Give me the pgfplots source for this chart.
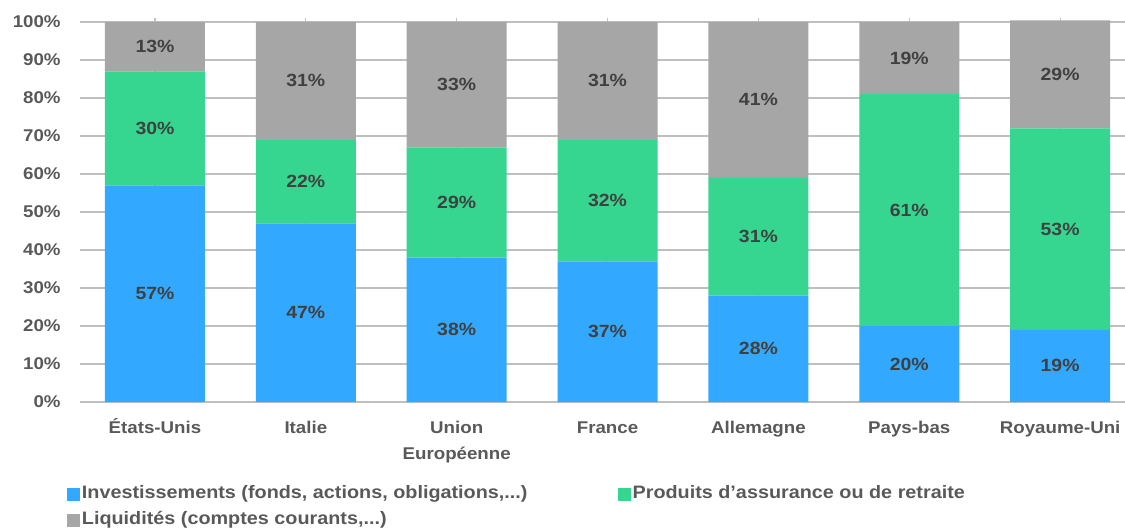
\documentclass[border=0pt]{standalone}
\usepackage{pgfplots}
\pgfplotsset{compat=1.18}
\usepackage{pgfplotstable}
\usepackage{fontspec}
\setmainfont{Liberation Sans}[FakeStretch=1.1]
\definecolor{cblue}{HTML}{33A8FF}
\definecolor{cgreen}{HTML}{36D690}
\definecolor{cgray}{HTML}{A6A6A6}
\definecolor{tgray}{HTML}{595959}
\definecolor{lgray}{HTML}{404040}
\definecolor{grid}{HTML}{E3E3E3}
% segment values
\pgfplotstableread{
x y
0 57
1 47
2 38
3 37
4 28
5 20
6 19
}\inv
\pgfplotstableread{
x y
0 30
1 22
2 29
3 32
4 31
5 61
6 53
}\prod
\pgfplotstableread{
x y
0 13
1 31
2 33
3 31
4 41
5 19
6 28.4
}\liq
% label positions (segment midpoints) and texts
\pgfplotstableread{
x y lab
0 28.5 57\%
1 23.5 47\%
2 19 38\%
3 18.5 37\%
4 14 28\%
5 10 20\%
6 9.5 19\%
0 72 30\%
1 58 22\%
2 52.5 29\%
3 53 32\%
4 43.5 31\%
5 50.5 61\%
6 45.5 53\%
0 93.5 13\%
1 84.5 31\%
2 83.5 33\%
3 84.5 31\%
4 79.5 41\%
5 90.5 19\%
6 86.2 29\%
}\labs
\begin{document}
\begin{tikzpicture}
\path[use as bounding box] (-60pt,-95.25pt) rectangle (783.75pt,301.5pt);
\pgfplotsset{common/.style={
  at={(0,0)}, anchor=south west,
  scale only axis,
  width=783.75pt, height=287.85pt,
  ymin=0, ymax=101,
  xmin=-0.497, xmax=6.43}}
\begin{axis}[
  common,
  ybar stacked, bar width=75pt,
  ytick={0,10,...,100},
  yticklabel={\pgfmathprintnumber{\tick}\%},
  xtick={0,...,6},
  xticklabels={États-Unis,Italie,{\begin{tabular}[t]{@{}c@{}}Union\\Européenne\end{tabular}},France,Allemagne,Pays-bas,Royaume-Uni},
  xticklabel style={anchor=base, yshift=-23.25pt, font=\bfseries\fontsize{12.75}{19.5}\selectfont, text=tgray},
  yticklabel style={font=\bfseries\fontsize{12.75}{15}\selectfont, text=tgray, xshift=-11pt},
  /pgf/number format/assume math mode=true,
  major tick length=0pt, tick style={draw=none},
  axis line style={draw=none},
  ymajorgrids, grid style={grid, line width=0.9pt},
  legend columns=2,
  legend style={at={(0,0)}, anchor=north west, xshift=-9.75pt, yshift=-63pt, draw=none, fill=none, inner sep=0pt,
    font=\bfseries\fontsize{13.5}{15}\selectfont, text=tgray,
    nodes={inner sep=0pt, text height=9.5pt, text depth=2.5pt, anchor=west}, row sep=7.5pt},
  legend image code/.code={\fill[#1] (0pt,-4.75pt) rectangle (9.5pt,4.75pt);},
]
\addplot[fill=cblue, draw=none] table[x=x,y=y]{\inv};
\addplot[fill=cgreen, draw=none] table[x=x,y=y]{\prod};
\addplot[fill=cgray, draw=none] table[x=x,y=y]{\liq};
\addlegendentry{\makebox[403.5pt][l]{\hspace{1.5pt}Investissements (fonds, actions, obligations,...)}}
\addlegendentry{\hspace{1.5pt}Produits d'assurance ou de retraite}
\addlegendentry{\hspace{1.5pt}Liquidités (comptes courants,...)}
\end{axis}
\begin{axis}[common, hide axis]
\addplot[draw=none, mark=none, point meta=explicit symbolic, nodes near coords,
  every node near coord/.append style={anchor=center, font=\bfseries\fontsize{13.25}{15}\selectfont, text=lgray}]
  table[x=x,y=y,meta=lab]{\labs};
\end{axis}
\end{tikzpicture}
\end{document}
